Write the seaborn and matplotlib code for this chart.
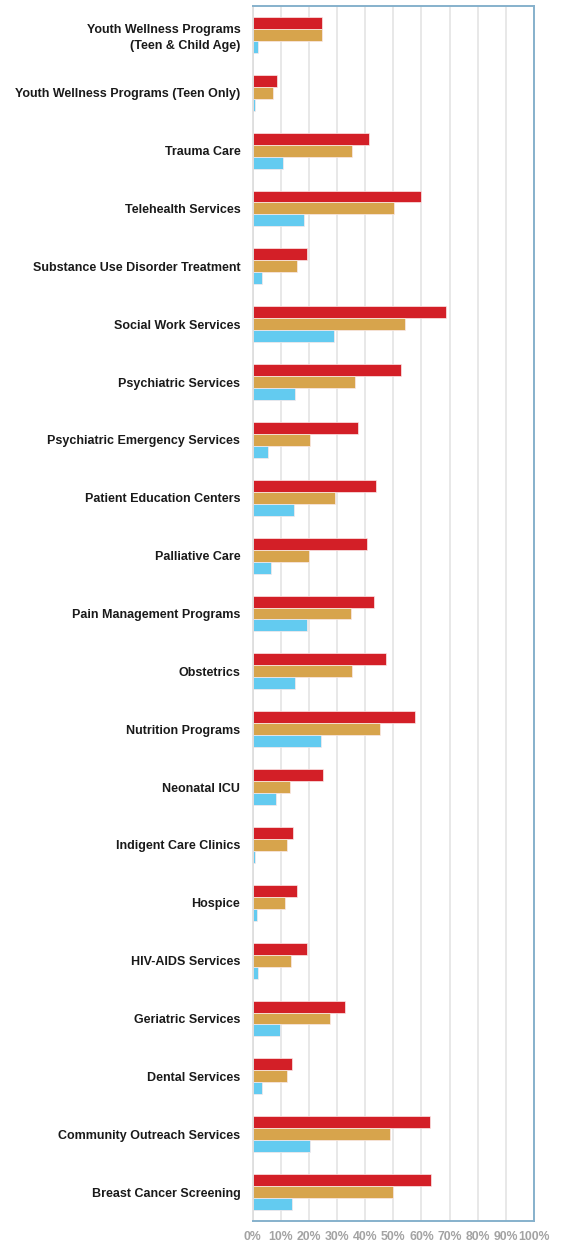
import pandas as pd
import matplotlib.pyplot as plt
import seaborn as sns
from matplotlib.ticker import MultipleLocator, PercentFormatter

# Categories, top to bottom
services = [
    "Youth Wellness Programs\n(Teen & Child Age)",
    "Youth Wellness Programs (Teen Only)",
    "Trauma Care",
    "Telehealth Services",
    "Substance Use Disorder Treatment",
    "Social Work Services",
    "Psychiatric Services",
    "Psychiatric Emergency Services",
    "Patient Education Centers",
    "Palliative Care",
    "Pain Management Programs",
    "Obstetrics",
    "Nutrition Programs",
    "Neonatal ICU",
    "Indigent Care Clinics",
    "Hospice",
    "HIV-AIDS Services",
    "Geriatric Services",
    "Dental Services",
    "Community Outreach Services",
    "Breast Cancer Screening",
]

# Three series (percent)
red_vals = [24.8, 8.5, 41.5, 59.7, 19.2, 68.6, 52.7, 37.3, 44.0, 40.8, 43.2,
            47.5, 57.7, 24.9, 14.3, 15.9, 19.4, 32.9, 14.0, 63.0, 63.5]
gold_vals = [24.8, 7.3, 35.4, 50.4, 15.9, 54.1, 36.4, 20.5, 29.4, 20.1, 35.0,
             35.4, 45.1, 13.4, 12.3, 11.6, 13.7, 27.6, 12.1, 48.9, 49.8]
blue_vals = [2.0, 0.7, 10.8, 18.4, 3.4, 28.9, 15.2, 5.5, 14.7, 6.5, 19.2,
             15.2, 24.4, 8.1, 0.9, 1.5, 2.0, 9.6, 3.2, 20.3, 14.1]
series_names = ["Series A", "Series B", "Series C"]
colors = ["#d31f27", "#d7a44c", "#63cbf0"]

df = pd.DataFrame({
    "service": services * 3,
    "value": red_vals + gold_vals + blue_vals,
    "series": [series_names[0]] * 21 + [series_names[1]] * 21 + [series_names[2]] * 21,
})

sns.set_style("white")
plt.rcParams['font.family'] = ['Liberation Sans', 'DejaVu Sans']

fig = plt.figure(figsize=(5.68, 12.43), dpi=100)
ax = fig.add_axes([0.445, 0.0177, 0.495, 0.9775])

sns.barplot(data=df, x="value", y="service", hue="series", order=services,
            hue_order=series_names, palette=colors, saturation=1, width=0.62,
            orient="h", edgecolor="#fbe9e9", linewidth=0.5, legend=False, ax=ax)

ax.set_xlim(0, 100)
ax.set_ylim(20.5, -0.5)
ax.xaxis.set_major_locator(MultipleLocator(10))
ax.xaxis.set_major_formatter(PercentFormatter(decimals=0))
ax.grid(axis="x", color="#e6e6e6", linewidth=1.3)
ax.set_axisbelow(True)
ax.set_xlabel("")
ax.set_ylabel("")

for side in ["top", "right", "bottom"]:
    ax.spines[side].set_color("#86b1cc")
    ax.spines[side].set_linewidth(1.4)
ax.spines["left"].set_color("#dcdcdc")
ax.spines["left"].set_linewidth(1.2)

ax.tick_params(axis="y", length=0, pad=9)
ax.tick_params(axis="x", length=0, pad=7)
for lab in ax.get_yticklabels():
    lab.set_fontweight("bold")
    lab.set_fontsize(9)
    lab.set_color("#1a1a1a")
    lab.set_linespacing(1.45)
for lab in ax.get_xticklabels():
    lab.set_fontweight("bold")
    lab.set_fontsize(8.8)
    lab.set_color("#a3a3a3")

fig.savefig("out.png", dpi=100)
